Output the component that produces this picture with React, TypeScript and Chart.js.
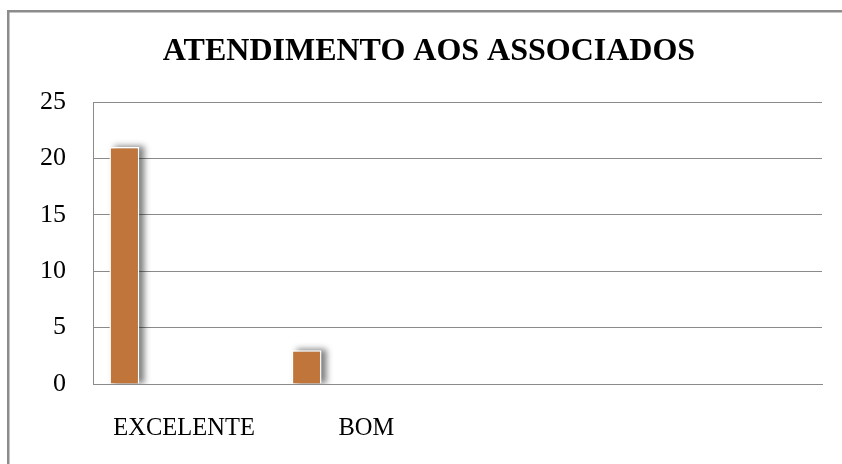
import React, { useEffect, useRef } from "react";
import { Chart, registerables } from "chart.js";

Chart.register(...registerables);

const TITLE = "ATENDIMENTO AOS ASSOCIADOS";
const categories = ["EXCELENTE", "BOM", "", ""];
const seriesValues = [21, 3, null, null];
const emptySeries = [null, null, null, null];
const yTicks = [0, 5, 10, 15, 20, 25];
const BAR_COLOR = "#C0763A";
const GRID_COLOR = "#8a8a8a";

const framePlugin = {
  id: "frame",
  beforeDraw(chart: any) {
    const ctx = chart.ctx;
    ctx.save();
    ctx.fillStyle = "#ffffff";
    ctx.fillRect(0, 0, chart.width, chart.height);
    ctx.strokeStyle = "#8c8c8c";
    ctx.lineWidth = 2.5;
    ctx.strokeRect(8.25, 11.25, 900, 600);
    ctx.fillStyle = "#000000";
    ctx.font = "bold 32px 'Liberation Serif'";
    ctx.textAlign = "center";
    ctx.textBaseline = "middle";
    ctx.fillText(TITLE, 429, 52);
    ctx.restore();
  },
};

const shadowPlugin = {
  id: "barShadow",
  beforeDatasetsDraw(chart: any) {
    const ctx = chart.ctx;
    const meta = chart.getDatasetMeta(0);
    const values = chart.data.datasets[0].data;
    const area = chart.chartArea;
    ctx.save();
    ctx.beginPath();
    ctx.rect(area.left, area.top - 10, area.right - area.left, area.bottom - area.top + 10);
    ctx.clip();
    ctx.filter = "blur(3px)";
    ctx.fillStyle = "rgba(0,0,0,0.5)";
    meta.data.forEach((el: any, i: number) => {
      if (values[i] == null) return;
      const w = el.width;
      ctx.fillRect(el.x - w / 2 + 5, el.y - 1, w, el.base - el.y + 1);
    });
    ctx.restore();
  },
};

export default function App() {
  const ref = useRef<HTMLCanvasElement | null>(null);
  useEffect(() => {
    document.body.style.margin = "0";
    const mk = (data: (number | null)[]) => ({
      data,
      backgroundColor: BAR_COLOR,
      borderColor: "#ffffff",
      borderWidth: 1.5,
      categoryPercentage: 0.82,
      barPercentage: 1,
    });
    const chart = new Chart(ref.current as HTMLCanvasElement, {
      type: "bar",
      data: {
        labels: categories,
        datasets: [mk(seriesValues), mk(emptySeries), mk(emptySeries), mk(emptySeries), mk(emptySeries)],
      },
      plugins: [framePlugin, shadowPlugin],
      options: {
        animation: false,
        responsive: false,
        layout: { padding: { left: 0, right: 20, top: 102, bottom: 0 } },
        plugins: { legend: { display: false }, title: { display: false }, tooltip: { enabled: false } },
        scales: {
          x: {
            grid: { display: false, drawTicks: false },
            border: { display: true, color: GRID_COLOR, width: 1 },
            ticks: {
              color: "#000",
              font: { family: "'Liberation Serif'", size: 24.5 },
              padding: 30,
              maxRotation: 0,
              autoSkip: false,
            },
            afterFit: (s: any) => {
              s.height = 80;
            },
          },
          y: {
            min: 0,
            max: 25,
            afterBuildTicks: (s: any) => {
              s.ticks = yTicks.map((v) => ({ value: v }));
            },
            grid: { color: GRID_COLOR, drawTicks: false, lineWidth: 1 },
            border: { display: true, color: GRID_COLOR, width: 1 },
            ticks: {
              color: "#000",
              font: { family: "'Liberation Serif'", size: 26 },
              padding: 27,
            },
            afterFit: (s: any) => {
              s.width = 93;
            },
          },
        },
      },
    });
    return () => chart.destroy();
  }, []);
  return <canvas ref={ref} width={842} height={464} style={{ display: "block" }} />;
}
